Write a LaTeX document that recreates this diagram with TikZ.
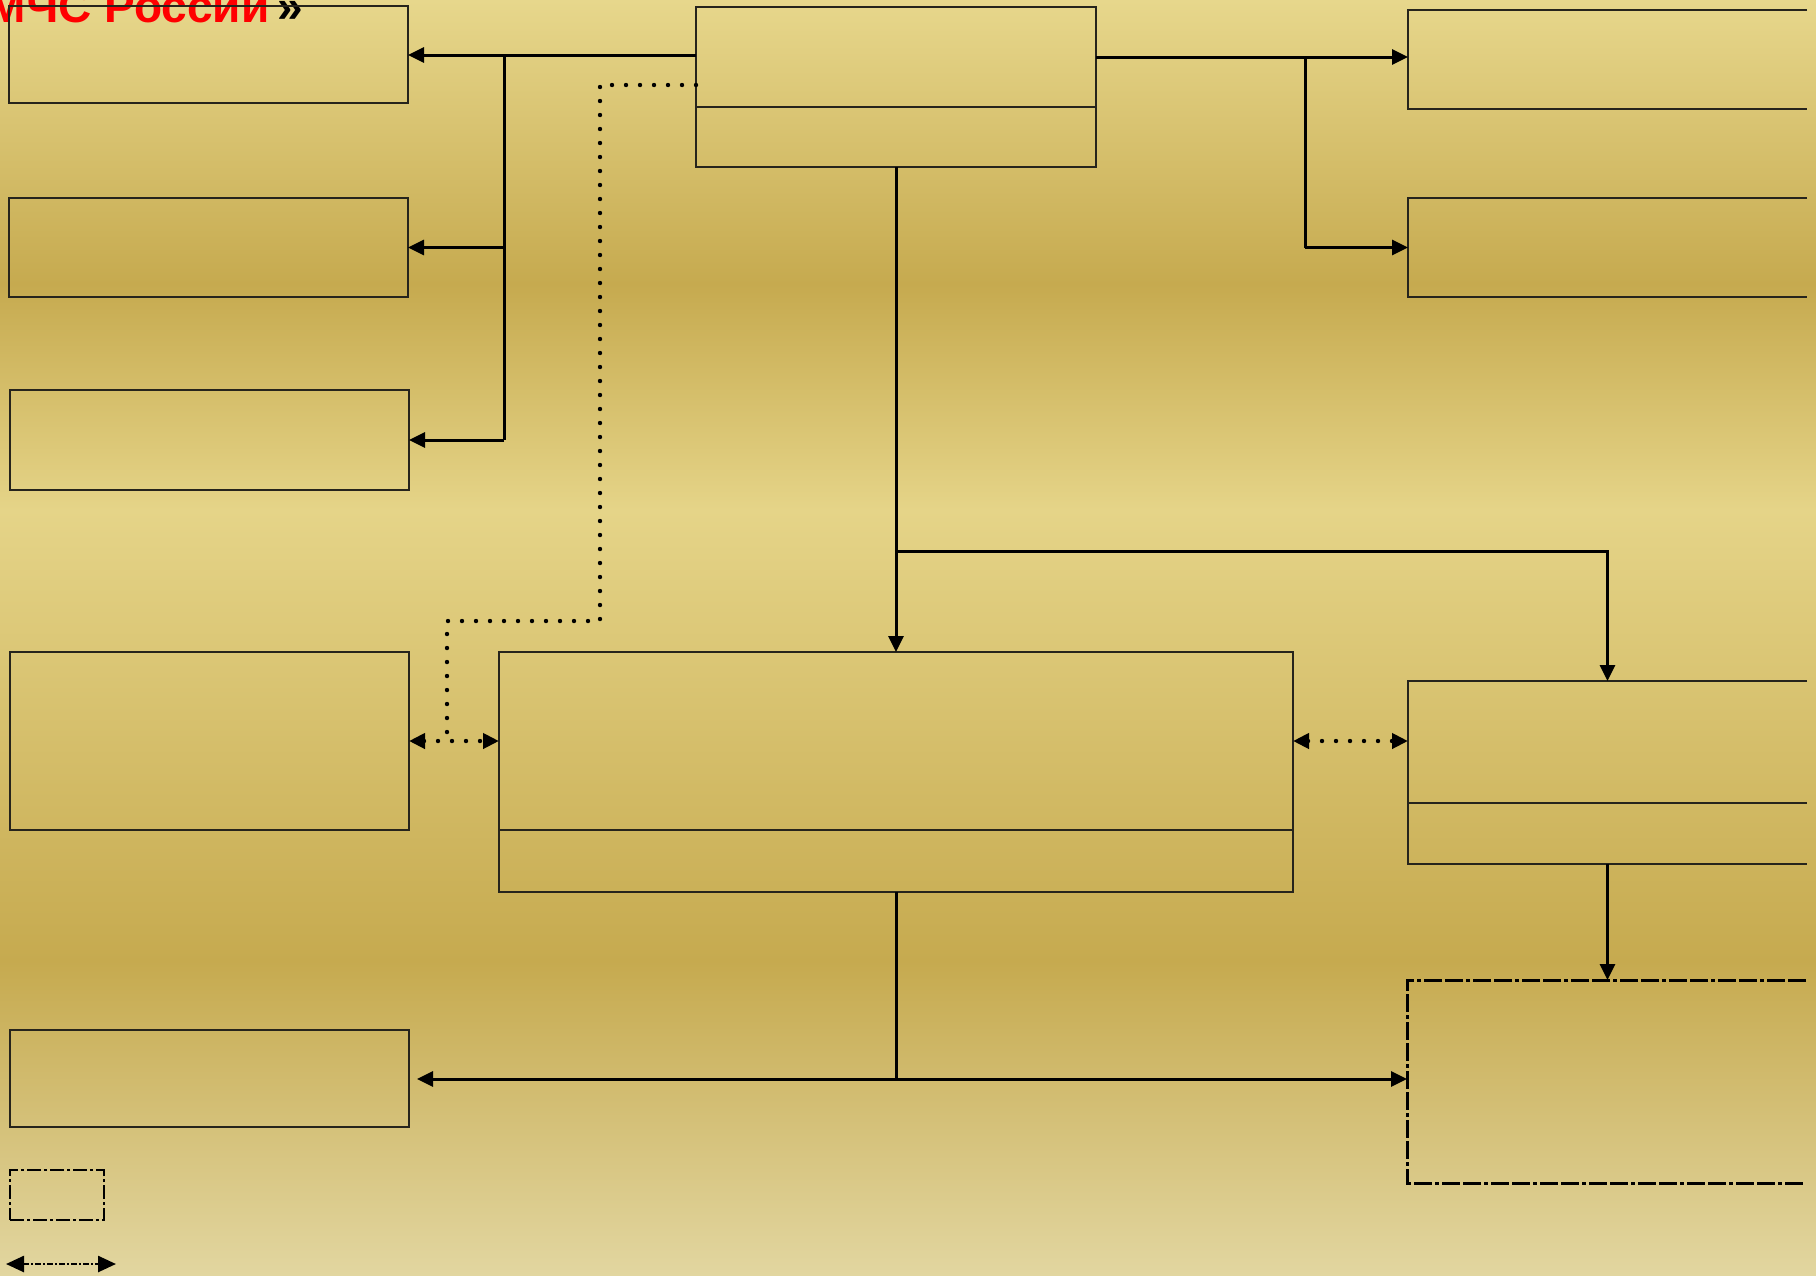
\documentclass[tikz,border=0pt]{standalone}
\usepackage{fontspec}
\newfontfamily\hfont{Liberation Sans}
\usetikzlibrary{arrows.meta}
\definecolor{bgA}{RGB}{231,215,140}
\definecolor{bgD}{RGB}{198,170,79}
\definecolor{bgL}{RGB}{229,212,136}
\definecolor{bgB}{RGB}{226,214,160}
\definecolor{lc}{RGB}{38,36,28}
\begin{document}
\begin{tikzpicture}[x=0.5pt,y=-0.5pt,
  box/.style={draw=lc, line width=1pt, inner sep=0pt, outer sep=0pt, anchor=north west},
  openbox/.style={inner sep=0pt, outer sep=0pt, anchor=north west},
  edge/.style={draw=lc, line width=1pt},
  conn/.style={draw=black, line width=1.5pt},
  tip/.style={-{Triangle[length=8pt,width=7.5pt]}},
  dtip/.style={{Triangle[length=8pt,width=7.5pt]}-{Triangle[length=8pt,width=7.5pt]}},
  lgtip/.style={{Triangle[length=9pt,width=8pt]}-{Triangle[length=9pt,width=8pt]}},
  dots/.style={draw=black, line width=2.2pt, line cap=round, dash pattern=on 0pt off 7pt},
  dashdot/.style={draw=black, line width=1.5pt, dash pattern=on 9pt off 1.5pt on 9pt off 1.5pt on 2pt off 1.5pt}
]
\useasboundingbox (0,0) rectangle (1816,1275);
% background
\shade[top color=bgA, bottom color=bgD] (0,0) rectangle (1816,284);
\shade[top color=bgD, bottom color=bgL] (0,284) rectangle (1816,510);
\shade[top color=bgL, bottom color=bgD] (0,510) rectangle (1816,961);
\shade[top color=bgD, bottom color=bgB] (0,961) rectangle (1816,1275);

% title fragment (cut by the top edge, as in the reference)
\node[anchor=base east, inner sep=0pt, font=\hfont\bfseries\fontsize{23pt}{23pt}\selectfont] (title) at (303,22) {{\color{red}МЧС России}\,»};

% left column
\node[box, minimum width=199.5pt, minimum height=48.5pt] (L1) at (9,6) {};
\node[box, minimum width=199.5pt, minimum height=49.5pt] (L2) at (9,198) {};
\node[box, minimum width=199.5pt, minimum height=50pt] (L3) at (10,390) {};
\node[box, minimum width=199.5pt, minimum height=89pt] (L4) at (10,652) {};
\node[box, minimum width=199.5pt, minimum height=48.5pt] (L5) at (10,1030) {};

% top centre
\node[box, minimum width=200pt, minimum height=80pt] (T) at (696,7) {};
\draw[edge] (T.north west) ++(0,100) coordinate (tdl) -- (tdl -| T.east);

% centre
\node[box, minimum width=397pt, minimum height=120pt] (C) at (499,652) {};
\draw[edge] (C.south west) ++(0,-62) coordinate (cdl) -- (cdl -| C.east);

% right column (cut by the page edge)
\node[openbox, minimum width=199.5pt, minimum height=49.5pt] (R1) at (1408,10) {};
\node[openbox, minimum width=199.5pt, minimum height=49.5pt] (R2) at (1408,198) {};
\node[openbox, minimum width=199.5pt, minimum height=91.5pt] (R3) at (1408,681) {};
\node[openbox, minimum width=199.5pt, minimum height=101.5pt] (R4) at (1407,980) {};
\draw[edge] (R1.north east) -- (R1.north west) -- (R1.south west) -- (R1.south east);
\draw[edge] (R2.north east) -- (R2.north west) -- (R2.south west) -- (R2.south east);
\draw[edge] (R3.north east) -- (R3.north west) -- (R3.south west) -- (R3.south east);
\draw[edge] (R3.north west) ++(0,122) coordinate (rdl) -- (rdl -| R3.east);
\draw[dashdot] (R4.north east) -- (R4.north west) -- (R4.south west) -- (R4.south east);

% legend
\node[inner sep=0pt, outer sep=0pt, anchor=north west, minimum width=47pt, minimum height=25pt,
      draw=black, line width=1pt, dash pattern=on 7pt off 1.5pt on 1.5pt off 1.5pt] (LG) at (10,1170) {};
\coordinate (lgA) at (6,1264);
\coordinate (lgB) at (116,1264);
\draw[draw=black, line width=1.3pt, dash pattern=on 3pt off 1pt on 1pt off 1pt, lgtip] (lgA) -- (lgB);

% connectors: top box to the left
\path (T.north west) ++(0,48) coordinate (tL);
\coordinate (bx) at (504,0);
\draw[conn,tip] (tL) -- (tL -| L1.east);
\draw[conn] (bx |- tL) -- (bx |- L3.east);
\draw[conn,tip] (bx |- L2.east) -- (L2.east);
\draw[conn,tip] (bx |- L3.east) -- (L3.east);

% connectors: top box to the right
\path (T.north east) ++(0,50) coordinate (tR);
\coordinate (bx2) at (1305,0);
\draw[conn,tip] (tR) -- (tR -| R1.west);
\draw[conn] (bx2 |- tR) -- (bx2 |- R2.west);
\draw[conn,tip] (bx2 |- R2.west) -- (R2.west);

% connectors: down the middle
\coordinate (j) at (0,551);
\draw[conn,tip] (T.south) -- (T.south |- C.north);
\draw[conn,tip] (T.south |- j) -| (R3.north);
\draw[conn,tip] (R3.south) -- (R3.south |- R4.north);
\coordinate (k) at (0,1079);
\draw[conn] (C.south) -- (C.south |- k);
\draw[conn,tip] (C.south |- k) -- (k -| R4.west);
\draw[conn,tip,shorten >=4pt] (C.south |- k) -- (k -| L5.east);

% dotted links
\path (T.north west) ++(0,78) coordinate (tD);
\coordinate (d1) at (600,621);
\coordinate (d2) at (447,741);
\draw[dots] (tD) -| (d1) -| (d2);
\draw[dots,dtip] (L4.east) -- (L4.east -| C.west);
\draw[dots,dtip] (L4.east -| C.east) -- (L4.east -| R3.west);
\end{tikzpicture}
\end{document}
